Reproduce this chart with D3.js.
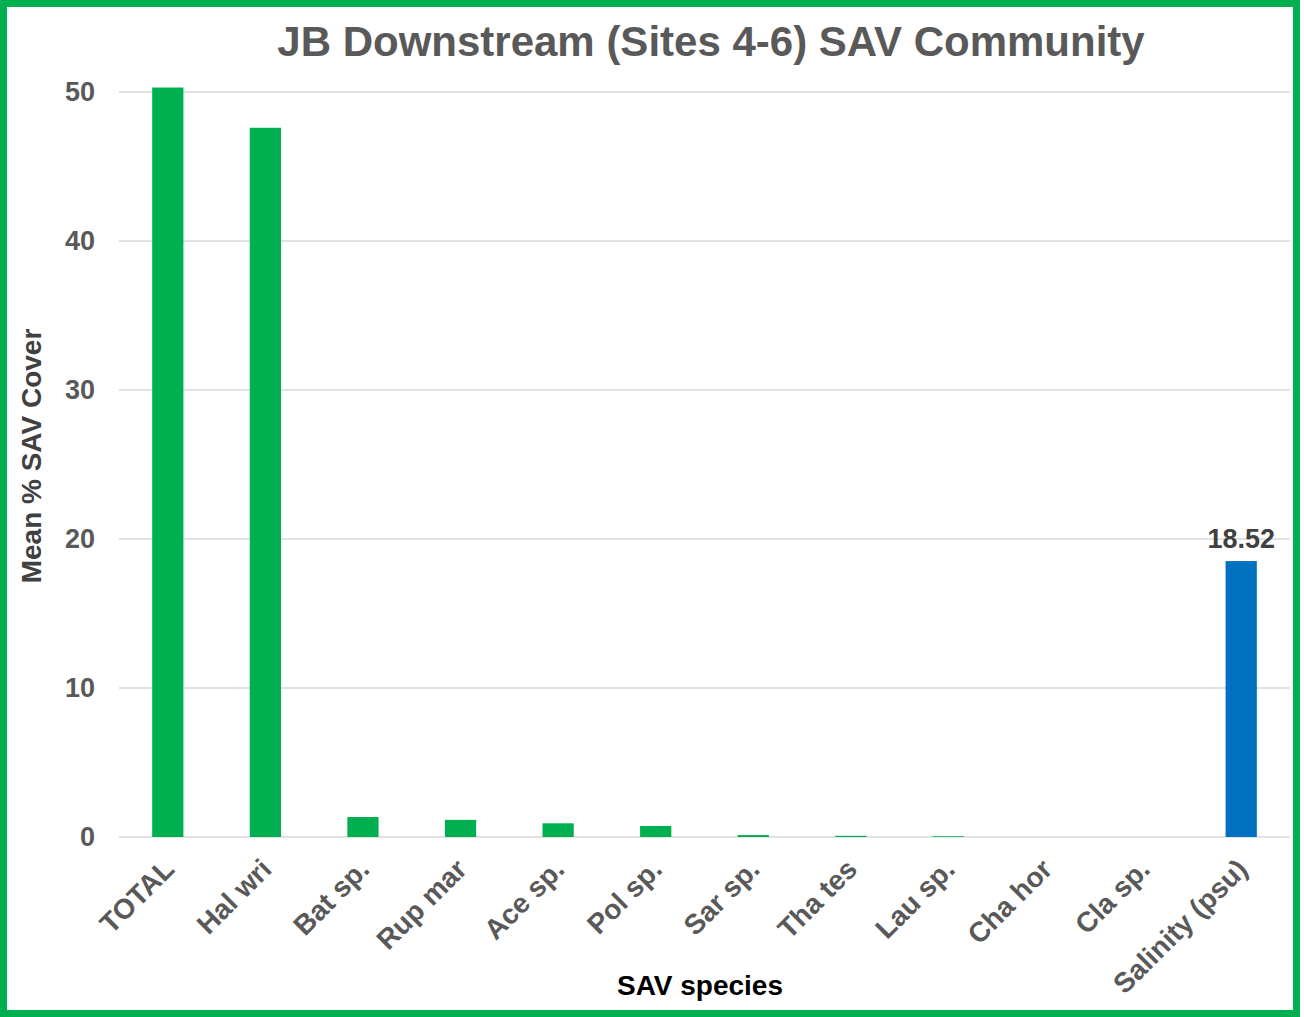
<!DOCTYPE html>
<html><head><meta charset="utf-8">
<script src="https://cdn.jsdelivr.net/npm/d3@7"></script>
<style>body{margin:0;background:#fff}svg{display:block}</style>
</head><body>
<script>
const categories = ["TOTAL","Hal wri","Bat sp.","Rup mar","Ace sp.","Pol sp.","Sar sp.","Tha tes","Lau sp.","Cha hor","Cla sp.","Salinity (psu)"];
const values = [50.3, 47.6, 1.34, 1.15, 0.92, 0.74, 0.13, 0.08, 0.05, 0, 0, 18.52];
const yTicks = [0, 10, 20, 30, 40, 50];
const labeledValue = "18.52";

const W = 1304, H = 1017;
const svg = d3.select("body").append("svg").attr("width", W).attr("height", H);
svg.append("rect").attr("x",3.5).attr("y",3.5).attr("width",W-11).attr("height",H-7)
  .attr("fill","#fff").attr("stroke","#00b050").attr("stroke-width",7);

const m = {l:119, r:1290, t:92, b:837};
const x = d3.scaleBand().domain(categories).range([m.l, m.r]).paddingInner(0.68).paddingOuter(0.34);
const y = d3.scaleLinear().domain([0,50]).range([m.b, m.t]);

const font = "Liberation Sans, Arial, sans-serif";
svg.append("g").selectAll("line").data(yTicks).join("line")
  .attr("x1", m.l).attr("x2", m.r).attr("y1", d=>y(d)).attr("y2", d=>y(d))
  .attr("stroke", "#d9d9d9").attr("stroke-width", 1.3);

svg.append("g").selectAll("text").data(yTicks).join("text")
  .attr("x", 95).attr("y", d=>y(d)).attr("dy","0.35em").attr("text-anchor","end")
  .attr("font-family", font).attr("font-weight","bold").attr("font-size",27).attr("fill","#595959")
  .text(d=>d);

svg.append("g").selectAll("rect").data(categories).join("rect")
  .attr("x", d=>x(d)).attr("width", x.bandwidth())
  .attr("y", (d,i)=>y(values[i])).attr("height", (d,i)=>y(0)-y(values[i]))
  .attr("fill", (d,i)=> i===categories.length-1 ? "#0070c0" : "#00b050");

const last = categories[categories.length-1];
svg.append("text").attr("x", x(last)+x.bandwidth()/2).attr("y", y(values[values.length-1])-13)
  .attr("text-anchor","middle").attr("font-family",font).attr("font-weight","bold").attr("font-size",27)
  .attr("fill","#404040").text(labeledValue);

svg.append("g").selectAll("text").data(categories).join("text")
  .attr("transform", d=>`translate(${x(d)+x.bandwidth()/2+1},${m.b+27}) rotate(-45)`)
  .attr("text-anchor","end").attr("dy","0.35em")
  .attr("font-family",font).attr("font-weight","bold").attr("font-size",28).attr("fill","#595959")
  .text(d=>d);

svg.append("text").attr("x", 711).attr("y", 56).attr("text-anchor","middle")
  .attr("font-family",font).attr("font-weight","bold").attr("font-size",42).attr("fill","#595959")
  .text("JB Downstream (Sites 4-6) SAV Community");

svg.append("text").attr("transform","translate(41,456) rotate(-90)").attr("text-anchor","middle")
  .attr("font-family",font).attr("font-weight","bold").attr("font-size",28).attr("fill","#404040")
  .text("Mean % SAV Cover");

svg.append("text").attr("x", 700).attr("y", 995).attr("text-anchor","middle")
  .attr("font-family",font).attr("font-weight","bold").attr("font-size",28).attr("fill","#000")
  .text("SAV species");
</script>
</body></html>
